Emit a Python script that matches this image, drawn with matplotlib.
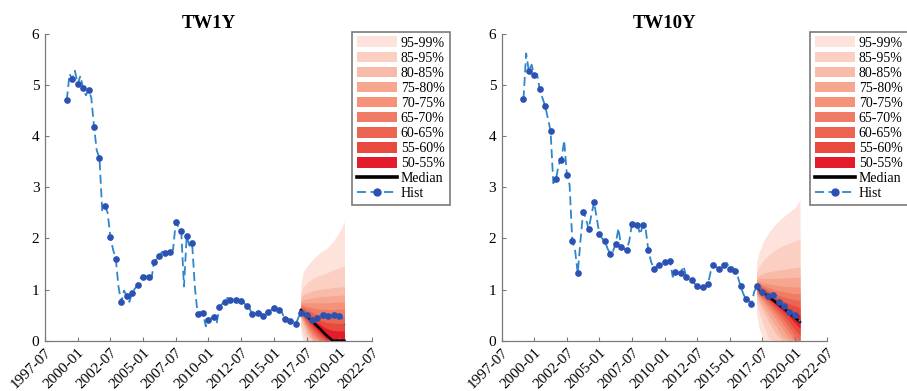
import numpy as np
import matplotlib
matplotlib.use("Agg")
import matplotlib.pyplot as plt
from matplotlib.patches import Patch
from matplotlib.lines import Line2D

plt.rcParams['font.family'] = ['Liberation Serif', 'DejaVu Serif']

# ---------------- data ----------------
tick_labels = ["1997-07", "2000-01", "2002-07", "2005-01", "2007-07", "2010-01",
               "2012-07", "2015-01", "2017-07", "2020-01", "2022-07"]
hist_start = "1999-03"
hist_step_months = 2.5          # line sampling; every 2nd point carries a marker

band_labels = ["95-99%", "85-95%", "80-85%", "75-80%", "70-75%",
               "65-70%", "60-65%", "55-60%", "50-55%"]
band_colors = ["#fde3dc", "#fbd0c3", "#f9bba9", "#f7a790", "#f4937a",
               "#f07c66", "#ec6552", "#e84a3e", "#e31b2a"]

fan_dates = [2017.06, 2017.25, 2017.6, 2018.0, 2018.5, 2019.0, 2019.5, 2020.0, 2020.4]

# TW1Y history: values at marked dates, values between them, and tail
tw1y_marked = [4.70, 5.12, 5.02, 4.94, 4.91, 4.19, 3.57, 2.64, 2.02, 1.59,
               0.75, 0.87, 0.94, 1.09, 1.25, 1.24, 1.53, 1.66, 1.71, 1.73,
               2.32, 2.15, 2.04, 1.91, 0.53, 0.54, 0.40, 0.46, 0.65, 0.76,
               0.79, 0.80, 0.78, 0.68, 0.52, 0.55, 0.48, 0.57, 0.64, 0.61,
               0.42, 0.39, 0.32, 0.55, 0.50, 0.40, 0.44, 0.51, 0.48, 0.51, 0.49]
tw1y_between = [5.22, 5.28, 5.18, 4.80, 4.75, 3.72, 2.55, 2.50, 1.78, 1.05,
                0.98, 0.76, 1.02, 1.22, 1.26, 1.18, 1.60, 1.74, 1.72, 1.78,
                2.22, 1.06, 1.86, 1.05, 0.56, 0.28, 0.44, 0.34, 0.72, 0.84,
                0.78, 0.80, 0.74, 0.64, 0.50, 0.56, 0.52, 0.60, 0.66, 0.55,
                0.43, 0.38, 0.45, 0.58, 0.46, 0.41, 0.50, 0.53, 0.50, 0.52]
tw1y_tail = [0.45, 0.30]

tw1y_median = [0.60, 0.56, 0.46, 0.36, 0.24, 0.11, 0.0, 0.0, 0.0]
tw1y_upper = [
    [1.10, 1.35, 1.48, 1.60, 1.72, 1.80, 1.93, 2.12, 2.33],   # 99
    [0.95, 1.05, 1.15, 1.22, 1.28, 1.32, 1.38, 1.42, 1.47],   # 95
    [0.85, 0.90, 0.94, 0.98, 1.00, 1.02, 1.04, 1.05, 1.06],   # 85
    [0.78, 0.80, 0.82, 0.84, 0.86, 0.87, 0.88, 0.89, 0.90],   # 80
    [0.74, 0.74, 0.74, 0.74, 0.74, 0.74, 0.75, 0.76, 0.76],   # 75
    [0.70, 0.69, 0.66, 0.64, 0.62, 0.61, 0.61, 0.62, 0.62],   # 70
    [0.67, 0.65, 0.60, 0.55, 0.50, 0.48, 0.48, 0.48, 0.48],   # 65
    [0.64, 0.61, 0.55, 0.47, 0.40, 0.36, 0.34, 0.34, 0.34],   # 60
    [0.62, 0.58, 0.50, 0.41, 0.32, 0.24, 0.20, 0.19, 0.19],   # 55
]
tw1y_lower = [
    [0.15, 0.00, 0.00, 0.00, 0.00, 0.00, 0.00, 0.00, 0.00],   # 1
    [0.30, 0.15, 0.00, 0.00, 0.00, 0.00, 0.00, 0.00, 0.00],   # 5
    [0.44, 0.30, 0.10, 0.00, 0.00, 0.00, 0.00, 0.00, 0.00],   # 15
    [0.47, 0.35, 0.16, 0.00, 0.00, 0.00, 0.00, 0.00, 0.00],   # 20
    [0.50, 0.40, 0.22, 0.06, 0.00, 0.00, 0.00, 0.00, 0.00],   # 25
    [0.52, 0.43, 0.27, 0.12, 0.00, 0.00, 0.00, 0.00, 0.00],   # 30
    [0.54, 0.46, 0.32, 0.18, 0.04, 0.00, 0.00, 0.00, 0.00],   # 35
    [0.56, 0.50, 0.37, 0.24, 0.10, 0.00, 0.00, 0.00, 0.00],   # 40
    [0.58, 0.53, 0.42, 0.30, 0.16, 0.04, 0.00, 0.00, 0.00],   # 45
]

# TW10Y history
tw10y_marked = [4.72, 5.27, 5.19, 4.92, 4.59, 4.10, 3.16, 3.54, 3.25, 1.95,
                1.32, 2.52, 2.18, 2.71, 2.08, 1.95, 1.70, 1.90, 1.84, 1.77,
                2.29, 2.27, 2.27, 1.78, 1.41, 1.49, 1.53, 1.56, 1.34, 1.33,
                1.24, 1.19, 1.07, 1.05, 1.11, 1.48, 1.40, 1.48, 1.40, 1.37,
                1.07, 0.81, 0.71, 1.07, 0.95, 0.87, 0.89, 0.76, 0.68, 0.57, 0.51]
tw10y_between = [5.62, 5.40, 5.22, 4.75, 4.35, 3.08, 3.45, 3.92, 3.05, 1.78,
                 1.95, 2.40, 2.45, 2.40, 2.00, 1.80, 1.75, 2.20, 1.80, 1.95,
                 2.30, 2.08, 2.20, 1.55, 1.45, 1.50, 1.52, 1.25, 1.32, 1.46,
                 1.22, 1.12, 1.03, 1.06, 1.35, 1.45, 1.43, 1.52, 1.44, 1.25,
                 0.92, 0.80, 0.95, 1.02, 0.91, 0.86, 0.83, 0.72, 0.62, 0.55]
tw10y_tail = [0.45, 0.37]

tw10y_median = [1.05, 1.01, 0.94, 0.86, 0.76, 0.66, 0.56, 0.45, 0.37]
tw10y_upper = [
    [1.55, 1.72, 1.95, 2.12, 2.28, 2.40, 2.50, 2.60, 2.75],   # 99
    [1.35, 1.45, 1.58, 1.68, 1.78, 1.85, 1.90, 1.95, 2.00],   # 95
    [1.25, 1.28, 1.32, 1.35, 1.37, 1.39, 1.41, 1.43, 1.44],   # 85
    [1.20, 1.21, 1.22, 1.22, 1.22, 1.23, 1.23, 1.24, 1.25],   # 80
    [1.17, 1.16, 1.13, 1.11, 1.09, 1.07, 1.06, 1.05, 1.05],   # 75
    [1.14, 1.12, 1.08, 1.04, 0.99, 0.96, 0.94, 0.92, 0.92],   # 70
    [1.12, 1.09, 1.04, 0.98, 0.92, 0.87, 0.83, 0.80, 0.79],   # 65
    [1.10, 1.07, 1.01, 0.94, 0.86, 0.79, 0.73, 0.68, 0.64],   # 60
    [1.08, 1.04, 0.97, 0.90, 0.81, 0.72, 0.63, 0.55, 0.50],   # 55
]
tw10y_lower = [
    [0.55, 0.25, 0.00, 0.00, 0.00, 0.00, 0.00, 0.00, 0.00],   # 1
    [0.75, 0.57, 0.30, 0.04, 0.00, 0.00, 0.00, 0.00, 0.00],   # 5
    [0.85, 0.74, 0.56, 0.37, 0.15, 0.00, 0.00, 0.00, 0.00],   # 15
    [0.90, 0.81, 0.66, 0.50, 0.30, 0.09, 0.00, 0.00, 0.00],   # 20
    [0.93, 0.86, 0.75, 0.61, 0.43, 0.25, 0.06, 0.00, 0.00],   # 25
    [0.96, 0.90, 0.80, 0.68, 0.53, 0.36, 0.18, 0.00, 0.00],   # 30
    [0.98, 0.93, 0.84, 0.74, 0.60, 0.45, 0.29, 0.10, 0.00],   # 35
    [1.00, 0.95, 0.87, 0.78, 0.66, 0.53, 0.39, 0.22, 0.10],   # 40
    [1.02, 0.98, 0.91, 0.82, 0.71, 0.60, 0.49, 0.35, 0.24],   # 45
]

# ---------------- helpers ----------------
def ym(s):
    y, m = s.split("-")
    return int(y) + (int(m) - 1) / 12.0

def build_hist(marked, between, tail):
    vals = []
    for i, v in enumerate(marked):
        vals.append(v)
        if i < len(between):
            vals.append(between[i])
    vals.extend(tail)
    dates = ym(hist_start) + np.arange(len(vals)) * hist_step_months / 12.0
    marks = list(range(0, 2 * len(marked) - 1, 2))
    return dates, np.array(vals), marks

line_color = "#2f87cb"
marker_color = "#2b52b3"
dash = (0, (5.0, 2.5))
grey = "#7a7a7a"

def draw(ax, title, marked, between, tail, median, upper, lower, legend_x):
    for lo, up, col in zip(lower, upper, band_colors):
        ax.fill_between(fan_dates, lo, up, color=col, linewidth=0, zorder=1)
    ax.plot(fan_dates, median, color="black", lw=1.8, zorder=3)
    d, v, marks = build_hist(marked, between, tail)
    ax.plot(d, v, linestyle=dash, color=line_color, lw=1.3, marker="o",
            ms=3.8, mfc=marker_color, mec=marker_color, markevery=marks, zorder=4)

    ax.set_xlim(ym(tick_labels[0]), ym(tick_labels[-1]))
    ax.set_ylim(0, 6)
    ax.set_xticks([ym(t) for t in tick_labels])
    ax.set_xticklabels(tick_labels, rotation=45, ha="right", rotation_mode="anchor")
    ax.set_yticks(range(0, 7))
    for s in ("top", "right"):
        ax.spines[s].set_visible(False)
    for s in ("left", "bottom"):
        ax.spines[s].set_color(grey)
        ax.spines[s].set_linewidth(0.9)
    ax.tick_params(direction="in", length=3, color=grey, labelsize=11,
                   labelcolor="black", pad=4)
    ax.set_title(title, fontsize=13.5, fontweight="bold", pad=4)

    handles = [Patch(facecolor=c, edgecolor="none") for c in band_colors]
    handles.append(Line2D([], [], color="black", lw=2.6))
    handles.append(Line2D([], [], linestyle=dash, color=line_color, lw=1.3,
                          marker="o", ms=5, mfc=marker_color, mec=marker_color))
    labels = band_labels + ["Median", "Hist"]
    leg = ax.legend(handles, labels, loc="upper left", bbox_to_anchor=(legend_x, 1.008),
                    fontsize=10, frameon=True, fancybox=False, framealpha=1,
                    edgecolor=grey, handlelength=2.9, handleheight=0.8,
                    handletextpad=0.25, labelspacing=0.14, borderpad=0.35,
                    borderaxespad=0.0)
    leg.get_frame().set_linewidth(1.2)
    leg.set_zorder(10)

fig = plt.figure(figsize=(9.07, 3.91), dpi=100)
ax1 = fig.add_axes([0.0496, 0.1287, 0.3605, 0.7843])
ax2 = fig.add_axes([0.5532, 0.1287, 0.3590, 0.7843])

draw(ax1, "TW1Y", tw1y_marked, tw1y_between, tw1y_tail,
     tw1y_median, tw1y_upper, tw1y_lower, 0.939)
draw(ax2, "TW10Y", tw10y_marked, tw10y_between, tw10y_tail,
     tw10y_median, tw10y_upper, tw10y_lower, 0.947)

fig.savefig("out.png", dpi=100)
